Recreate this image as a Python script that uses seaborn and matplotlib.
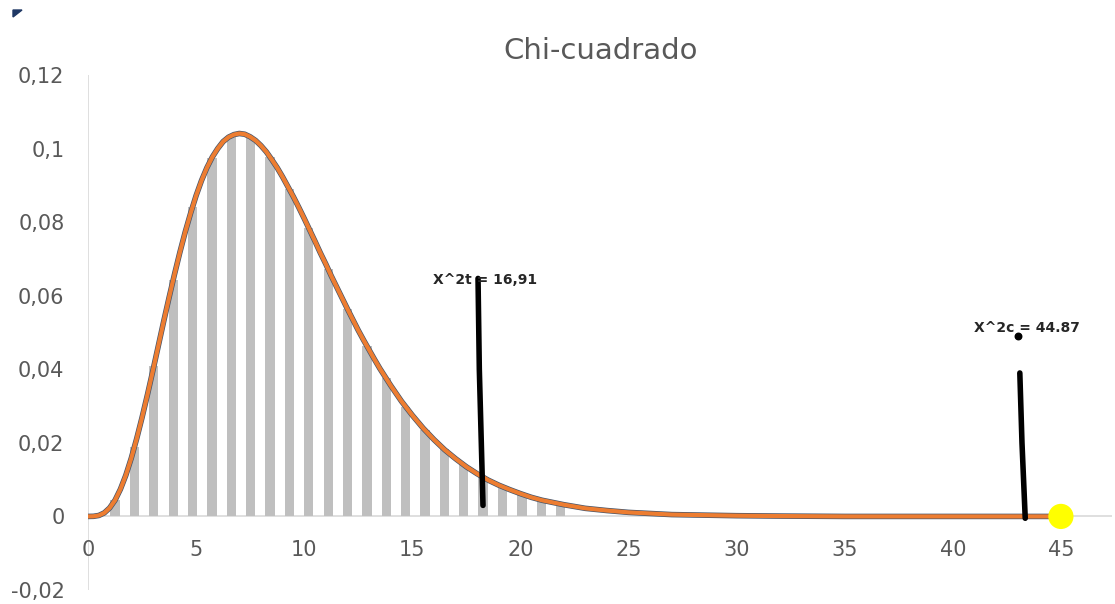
import matplotlib
matplotlib.use("Agg")
import matplotlib.pyplot as plt
from matplotlib.patches import Polygon
import seaborn as sns
import pandas as pd

# ---------------- data ----------------
curve_x = [0, 0.25, 0.5, 0.75, 1, 1.25, 1.5, 1.75, 2, 2.25, 2.5, 2.75, 3, 3.25,
           3.5, 3.75, 4, 4.25, 4.5, 4.75, 5, 5.25, 5.5, 5.75, 6, 6.25, 6.5, 6.75,
           7, 7.25, 7.5, 7.75, 8, 8.25, 8.5, 8.75, 9, 9.25, 9.5, 9.75, 10, 10.25,
           10.5, 10.75, 11, 11.25, 11.5, 11.75, 12, 12.25, 12.5, 12.75, 13, 13.25,
           13.5, 13.75, 14, 14.5, 15, 15.5, 16, 16.5, 17, 17.5, 18, 18.5, 19,
           19.5, 20, 20.5, 21, 21.5, 22, 23, 24, 25, 26, 27, 28, 30, 32, 35, 40,
           44.6]
curve_y = [0.0, 0.00003, 0.00026, 0.00095, 0.0023, 0.0044, 0.0074, 0.0112,
           0.0158, 0.0211, 0.0269, 0.0331, 0.0396, 0.0463, 0.0530, 0.0595,
           0.0658, 0.0718, 0.0774, 0.0825, 0.0872, 0.0913, 0.0948, 0.0977,
           0.1000, 0.1019, 0.1031, 0.1038, 0.1041, 0.1039, 0.1032, 0.1022,
           0.1008, 0.0991, 0.0970, 0.0948, 0.0923, 0.0896, 0.0869, 0.0840,
           0.0810, 0.0779, 0.0748, 0.0716, 0.0686, 0.0654, 0.0624, 0.0594,
           0.0564, 0.0535, 0.0506, 0.0479, 0.0453, 0.0427, 0.0402, 0.0379,
           0.0356, 0.0313, 0.0275, 0.0240, 0.0209, 0.0181, 0.0157, 0.0135,
           0.0116, 0.0099, 0.0085, 0.0073, 0.0062, 0.0052, 0.0044, 0.0038,
           0.0032, 0.0022, 0.0016, 0.0011, 0.0008, 0.0005, 0.0004, 0.0002,
           0.0001, 0.0, 0.0, 0.0]

bar_x = [1.25, 2.15, 3.04, 3.94, 4.83, 5.73, 6.63, 7.52, 8.42, 9.31, 10.21, 11.11,
         12.0, 12.9, 13.79, 14.69, 15.59, 16.48, 17.38, 18.27, 19.17, 20.07, 20.96,
         21.86]
bar_h = [0.0044, 0.0188, 0.0408, 0.0642, 0.0842, 0.0975, 0.1035, 0.1031, 0.0977,
         0.0889, 0.0784, 0.0672, 0.0564, 0.0463, 0.0375, 0.0298, 0.0234, 0.0182,
         0.0140, 0.0107, 0.0081, 0.0060, 0.0045, 0.0033]

title_text = "Chi-cuadrado"
crit_label = "X^2t = 16,91"
crit_label_pos = [15.95, 0.0642]
crit_line_x = [18.04, 18.10, 18.27]
crit_line_y = [0.0647, 0.040, 0.003]
calc_label = "X^2c = 44.87"
calc_label_pos = [41.0, 0.0513]
calc_dot_x = [43.0]
calc_dot_y = [0.0490]
calc_line_x = [43.10, 43.20, 43.35]
calc_line_y = [0.0390, 0.020, -0.0005]
stat_x = [45]
stat_y = [0]

x_ticks = [0, 5, 10, 15, 20, 25, 30, 35, 40, 45]
y_ticks = [-0.02, 0, 0.02, 0.04, 0.06, 0.08, 0.10, 0.12]
y_tick_labels = ["-0,02", "0", "0,02", "0,04", "0,06", "0,08", "0,1", "0,12"]

# ---------------- drawing ----------------
sns.set_theme(style="white")
plt.rcParams["font.family"] = ["DejaVu Sans"]

W, H = 1115, 604
fig = plt.figure(figsize=(W / 100, H / 100), dpi=100)
ax = fig.add_axes([88 / W, 1 - 590 / H, (1112 - 88) / W, (590 - 75) / H])

bars_df = pd.DataFrame({"x": bar_x, "h": bar_h})
sns.barplot(data=bars_df, x="x", y="h", native_scale=True, orient="x",
            width=0.48, color="#BFBFBF", saturation=1, errorbar=None,
            edgecolor="none", linewidth=0, ax=ax, zorder=2)

curve_df = pd.DataFrame({"x": curve_x, "y": curve_y})
sns.lineplot(data=curve_df, x="x", y="y", color="#44546A", linewidth=4.0,
             ax=ax, zorder=3, sort=False, solid_joinstyle="round",
             solid_capstyle="round")
sns.lineplot(data=curve_df, x="x", y="y", color="#ED7D31", linewidth=3.0,
             ax=ax, zorder=4, sort=False, solid_joinstyle="round",
             solid_capstyle="round")

sns.scatterplot(x=stat_x, y=stat_y, color="#FFFF00", s=330, edgecolor="none",
                ax=ax, zorder=6)

# hand drawn markers
ax.plot(crit_line_x, crit_line_y, color="black", linewidth=4.0,
        solid_capstyle="round", zorder=7)
ax.plot(calc_line_x, calc_line_y, color="black", linewidth=4.0,
        solid_capstyle="round", zorder=7)
ax.scatter(calc_dot_x, calc_dot_y, color="black", s=22, zorder=7)
ax.text(crit_label_pos[0], crit_label_pos[1], crit_label, fontsize=10,
        fontweight="bold", family="DejaVu Sans", va="center", ha="left",
        zorder=8)
ax.text(calc_label_pos[0], calc_label_pos[1], calc_label, fontsize=10,
        fontweight="bold", family="DejaVu Sans", va="center", ha="left",
        zorder=8)

# axis lines in Excel style
ax.axhline(0, color="#D9D9D9", linewidth=1.2, zorder=1)
ax.axvline(0, color="#D9D9D9", linewidth=1.2, zorder=1)

ax.set_xlim(0, (1112 - 88) / 21.62)
ax.set_ylim(-0.02, 0.12)
for s in ax.spines.values():
    s.set_visible(False)

ax.set_yticks(y_ticks)
ax.set_yticklabels(y_tick_labels)
ax.tick_params(axis="y", length=0, pad=17, labelsize=15, labelcolor="#595959")
ax.set_xticks([])
for xv in x_ticks:
    ax.annotate(str(xv), xy=(xv, 0), xycoords="data", xytext=(0, -34),
                textcoords="offset pixels", ha="center", va="center",
                fontsize=15, color="#595959")
ax.set_xlabel("")
ax.set_ylabel("")

fig.text(601 / W, 1 - 51 / H, title_text, ha="center", va="center",
         fontsize=21, color="#595959")

# small dark corner mark at top left
fig.patches.append(Polygon([[13 / W, 1 - 10 / H], [22 / W, 1 - 10 / H],
                            [13 / W, 1 - 17 / H]], closed=True,
                           transform=fig.transFigure, color="#1F3864"))

fig.savefig("out.png", dpi=100)
